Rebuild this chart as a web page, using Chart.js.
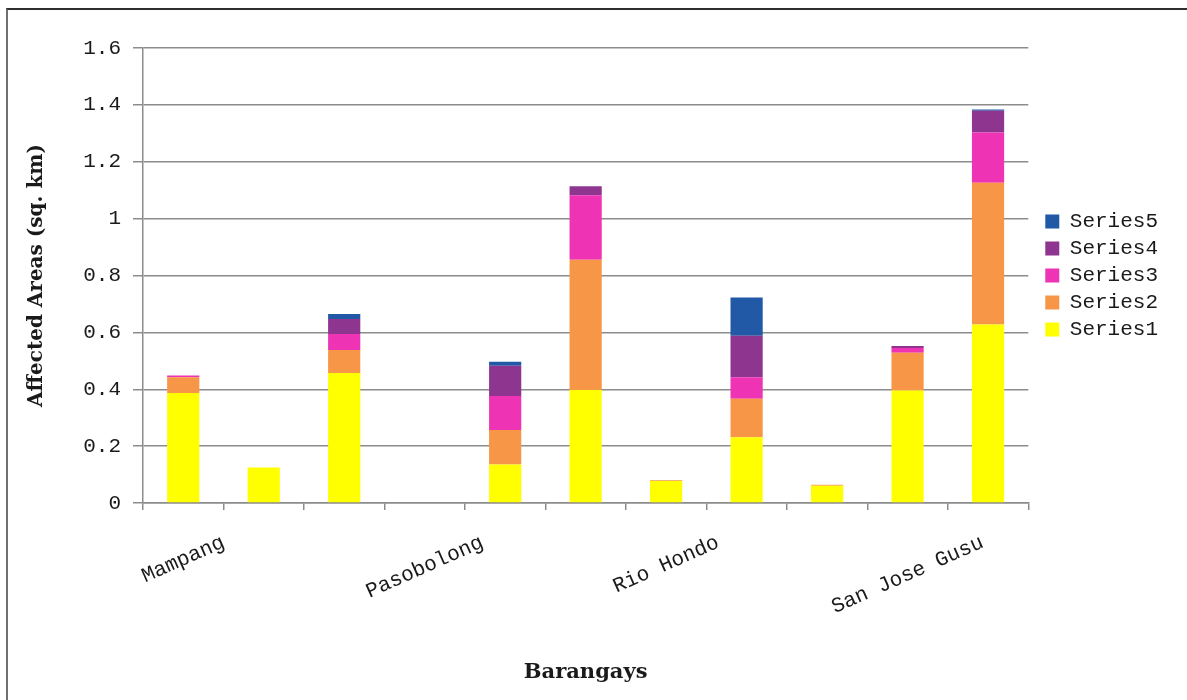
<!DOCTYPE html>
<html>
<head>
<meta charset="utf-8">
<title>Affected Areas by Barangay</title>
<script src="https://cdn.jsdelivr.net/npm/chart.js@4/dist/chart.umd.min.js"></script>
<style>
  html, body { margin: 0; padding: 0; background: #ffffff; }
  #wrap { position: relative; width: 1187px; height: 700px; overflow: hidden; }
  #frame {
    position: absolute; left: 6px; top: 8px; right: 0; bottom: 0;
    border-top: 2px solid #2e2e2e; border-left: 2px solid #707070;
    pointer-events: none;
  }
  canvas { position: absolute; left: 0; top: 0; }
</style>
</head>
<body>
<div id="wrap">
  <canvas id="chart" width="1187" height="700"></canvas>
  <div id="frame"></div>
</div>
<script>
// Barangay categories (only every third name is printed on the axis)
const categories = ['Mampang', '', '', 'Pasobolong', '', '', 'Rio Hondo', '', '', 'San Jose Gusu', ''];

// Affected area per series, sq. km
const series1 = [0.387, 0.125, 0.457, 0, 0.135, 0.397, 0.077, 0.231, 0.061, 0.396, 0.628];
const series2 = [0.055, 0, 0.081, 0, 0.122, 0.458, 0.003, 0.136, 0.003, 0.132, 0.498];
const series3 = [0.006, 0, 0.056, 0, 0.119, 0.227, 0, 0.075, 0, 0.017, 0.177];
const series4 = [0, 0, 0.053, 0, 0.107, 0.032, 0, 0.146, 0, 0.007, 0.076];
const series5 = [0, 0, 0.018, 0, 0.014, 0, 0, 0.135, 0, 0, 0.005];

const seriesNames = ['Series1', 'Series2', 'Series3', 'Series4', 'Series5'];
const seriesColors = ['#FFFF00', '#F79646', '#EE34B4', '#8E3590', '#2259A6'];

// Value axis tick labels, bottom to top
const yTickLabels = ['0', '0.2', '0.4', '0.6', '0.8', '1', '1.2', '1.4', '1.6'];

const monoFont = "'Liberation Mono', 'DejaVu Sans Mono', monospace";
const serifFont = "'DejaVu Serif', 'Liberation Serif', serif";
const gridColor = '#8c8c8c';
const textColor = '#1a1a1a';

const seriesData = [series1, series2, series3, series4, series5];
const datasets = seriesData.map((values, i) => ({
  label: seriesNames[i],
  data: values,
  backgroundColor: seriesColors[i],
  borderWidth: 0,
  categoryPercentage: 1.0,
  barPercentage: 0.4
}));

// Slanted category names, each centred under its bar slot
const categoryLabels = {
  id: 'categoryLabels',
  afterDraw(chart) {
    const xs = chart.scales.x;
    const ctx = chart.ctx;
    const angle = 24 * Math.PI / 180;
    const size = 21;
    ctx.save();
    ctx.font = size + 'px ' + monoFont;
    ctx.fillStyle = textColor;
    ctx.textAlign = 'center';
    ctx.textBaseline = 'middle';
    categories.forEach((name, i) => {
      if (!name) return;
      const len = ctx.measureText(name).width;
      const boxH = len * Math.sin(angle) + size * Math.cos(angle);
      const cx = xs.getPixelForValue(i);
      const cy = xs.top + 29 + boxH / 2;
      ctx.save();
      ctx.translate(cx, cy);
      ctx.rotate(-angle);
      ctx.fillText(name, 0, 0);
      ctx.restore();
    });
    ctx.restore();
  }
};

new Chart(document.getElementById('chart'), {
  type: 'bar',
  data: { labels: categories, datasets: datasets },
  plugins: [categoryLabels],
  options: {
    responsive: false,
    animation: false,
    layout: { padding: { left: 10, top: 48, right: 19, bottom: 8 } },
    plugins: {
      tooltip: { enabled: false },
      legend: {
        position: 'right',
        fullSize: false,
        reverse: true,
        labels: {
          boxWidth: 14,
          boxHeight: 14,
          padding: 6,
          color: textColor,
          font: { family: monoFont, size: 21 }
        }
      }
    },
    scales: {
      x: {
        stacked: true,
        offset: true,
        grid: {
          offset: true,
          drawOnChartArea: false,
          drawTicks: true,
          tickLength: 7,
          color: gridColor,
          lineWidth: 1.5
        },
        border: { color: gridColor, width: 1.5 },
        ticks: { display: false },
        title: {
          display: true,
          text: 'Barangays',
          color: textColor,
          font: { family: serifFont, size: 21, weight: 'bold', lineHeight: 1.2 },
          padding: { top: 0, bottom: 7 }
        },
        afterFit(scale) { scale.height = 189; }
      },
      y: {
        stacked: true,
        min: 0,
        max: 1.6,
        ticks: {
          stepSize: 0.2,
          padding: 12,
          color: textColor,
          font: { family: monoFont, size: 21 },
          callback: (value, index) => yTickLabels[index]
        },
        grid: {
          color: gridColor,
          lineWidth: 1.5,
          drawTicks: true,
          tickLength: 10
        },
        border: { color: gridColor, width: 1.5 },
        title: {
          display: true,
          text: 'Affected Areas (sq. km)',
          color: textColor,
          font: { family: serifFont, size: 20, weight: 'bold', lineHeight: 1.2 },
          padding: { top: 15, bottom: 0 }
        },
        afterFit(scale) { scale.width = 133; }
      },
      gap: {
        type: 'linear',
        position: 'right',
        display: true,
        grid: { display: false },
        border: { display: false },
        ticks: { display: false },
        afterFit(scale) { scale.width = 11; }
      }
    }
  }
});
</script>
</body>
</html>
